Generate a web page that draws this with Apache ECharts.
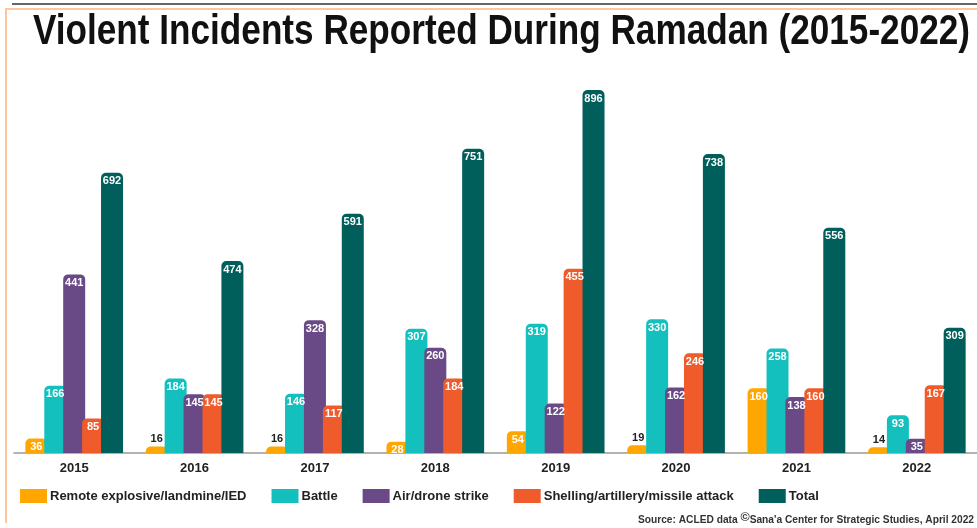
<!DOCTYPE html>
<html>
<head>
<meta charset="utf-8">
<script src="https://cdn.jsdelivr.net/npm/echarts@6/dist/echarts.min.js"></script>
<style>html,body{margin:0;padding:0;background:#fff}#c{width:977px;height:528px}</style>
</head>
<body>
<div id="c"></div>
<script>
var years = ['2015','2016','2017','2018','2019','2020','2021','2022'];
var remote = [36,16,16,28,54,19,160,14];
var battle = [166,184,146,307,319,330,258,93];
var air = [441,145,328,260,122,162,138,35];
var shelling = [85,145,117,184,455,246,160,167];
var total = [692,474,591,751,896,738,556,309];
var names = ['Remote explosive/landmine/IED','Battle','Air/drone strike','Shelling/artillery/missile attack','Total'];
var colors = ['#FFA600','#14C0BE','#694A86','#EF5B2B','#005E5B'];
var seriesData = [remote, battle, air, shelling, total];
var titleText = 'Violent Incidents Reported During Ramadan (2015-2022)';

function mkData(arr){
  return arr.map(function(v){
    if (v < 20) {
      return {value: v, label: {position: 'top', color: '#222', distance: 2}};
    }
    return v;
  });
}

var titleFont = 'bold 42px "Liberation Sans", Arial, sans-serif';
var cv = document.createElement('canvas').getContext('2d');
cv.font = titleFont;
var tw = cv.measureText(titleText).width;
var sx = 937 / tw;

var chart = echarts.init(document.getElementById('c'));
chart.setOption({
  animation: false,
  backgroundColor: '#fff',
  legend: {
    data: names,
    left: 20, top: 489, itemWidth: 27, itemHeight: 14, itemGap: 25, padding: 0,
    icon: 'rect',
    textStyle: {fontFamily: 'Liberation Sans, Arial, sans-serif', fontWeight: 'bold', fontSize: 13, color: '#222', padding: [0,0,0,-2]}
  },
  grid: {left: 14, right: -9, top: 48, bottom: 75, containLabel: false},
  xAxis: {
    type: 'category', data: years,
    axisLine: {lineStyle: {color: '#999', width: 1.5}},
    axisTick: {show: false},
    axisLabel: {fontFamily: 'Liberation Sans, Arial, sans-serif', fontWeight: 'bold', fontSize: 13, color: '#222', margin: 9}
  },
  yAxis: {type: 'value', min: 0, max: 1000, show: false, splitLine: {show: false}},
  series: seriesData.map(function(arr, i){
    return {
      name: names[i], type: 'bar', data: mkData(arr),
      barWidth: 22, barGap: '-14%',
      itemStyle: {color: colors[i], borderRadius: [5,5,0,0]},
      label: {show: true, position: 'insideTop', distance: 3, color: '#fff', fontWeight: 'bold', fontSize: 11, fontFamily: 'Liberation Sans, Arial, sans-serif'}
    };
  }),
  graphic: [
    {type: 'line', shape: {x1: 12, y1: 4, x2: 977, y2: 4}, style: {stroke: '#333', lineWidth: 1.5}},
    {type: 'line', shape: {x1: 5, y1: 9, x2: 977, y2: 9}, style: {stroke: '#FDC6A0', lineWidth: 2}},
    {type: 'line', shape: {x1: 6, y1: 9, x2: 6, y2: 523}, style: {stroke: '#FDC6A0', lineWidth: 2}},
    {type: 'text', x: 33, y: 32, scaleX: sx, style: {
      text: titleText, font: titleFont, fill: '#111', align: 'left', verticalAlign: 'middle'
    }},
    {type: 'text', right: 3, bottom: 3, style: {
      text: 'Source: ACLED data {c|©}Sana\'a Center for Strategic Studies, April 2022',
      rich: {c: {fontSize: 12.5, fontWeight: 'bold', fill: '#333', verticalAlign: 'top', padding: [0,0,4,0]}},
      font: 'bold 10.2px "Liberation Sans", Arial, sans-serif', fill: '#333'
    }}
  ]
});
</script>
</body>
</html>
